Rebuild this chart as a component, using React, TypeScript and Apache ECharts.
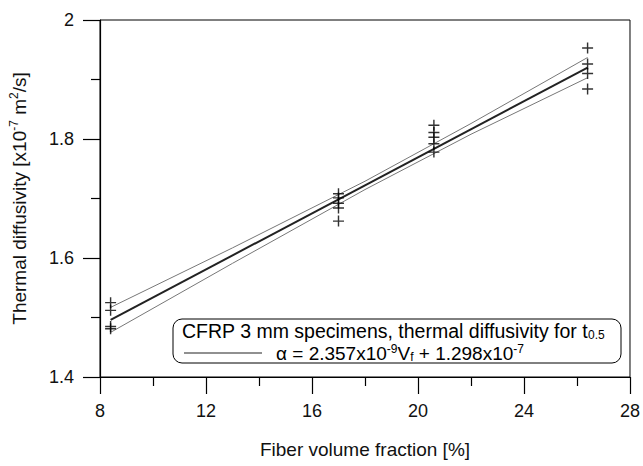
import React, { useEffect, useRef } from "react";
import * as echarts from "echarts";

const xTickLabels = ["8", "12", "16", "20", "24", "28"];
const yTickLabels = ["1.4", "1.6", "1.8", "2"];

// measured points [Vf %, diffusivity x1e-7]
const points: [number, number][] = [
  [8.4, 1.525], [8.4, 1.512], [8.4, 1.485], [8.4, 1.481],
  [17, 1.708], [17, 1.701], [17, 1.692], [17, 1.684], [17, 1.662],
  [20.6, 1.823], [20.6, 1.811], [20.6, 1.803], [20.6, 1.792], [20.6, 1.778],
  [26.4, 1.953], [26.4, 1.926], [26.4, 1.91], [26.4, 1.884],
];

const fitLine: [number, number][] = [[8.4, 1.496], [26.4, 1.92]];
const upperBand: [number, number][] = [[8.4, 1.517], [13, 1.617], [18, 1.729], [22, 1.826], [26.4, 1.937]];
const lowerBand: [number, number][] = [[8.4, 1.475], [13, 1.591], [18, 1.715], [22, 1.808], [26.4, 1.903]];

const FONT = "'Liberation Sans', Arial, Helvetica, sans-serif";
const crossPath =
  "path://M-0.13,-1H0.13V-0.13H1V0.13H0.13V1H-0.13V0.13H-1V-0.13H-0.13Z";

export default function App() {
  const ref = useRef<HTMLDivElement>(null);
  useEffect(() => {
    if (!ref.current) return;
    const chart = echarts.init(ref.current, null, { renderer: "svg" });
    const supStyle = { fontSize: 12, fontFamily: FONT, color: "#111", verticalAlign: "top", lineHeight: 12 };
    const subStyle = { fontSize: 12, fontFamily: FONT, color: "#111", verticalAlign: "bottom", lineHeight: 12 };
    chart.setOption({
      animation: false,
      backgroundColor: "#fff",
      grid: {
        left: 98, right: 11, top: 20, bottom: 89,
        show: true, borderColor: "#000", borderWidth: 1,
      },
      xAxis: {
        type: "value", min: 8, max: 28, interval: 4,
        name: "Fiber volume fraction [%]",
        nameLocation: "middle", nameGap: 63,
        nameTextStyle: { fontFamily: FONT, fontSize: 19, color: "#111" },
        axisLine: { lineStyle: { color: "#000", width: 1.2 } },
        axisTick: { show: true, inside: false, length: 17, lineStyle: { color: "#000", width: 1.2 } },
        minorTick: { show: true, splitNumber: 2, length: 9, lineStyle: { color: "#000", width: 1.2 } },
        axisLabel: {
          margin: 25, fontFamily: FONT, fontSize: 18, color: "#111",
          formatter: (v: number) => xTickLabels[xTickLabels.indexOf(String(v))] ?? "",
        },
        splitLine: { show: false },
      },
      yAxis: {
        type: "value", min: 1.4, max: 2, interval: 0.2,
        name: "{n|Thermal diffusivity [x10}{sup|-7}{n| m}{sup|2}{n|/s]}",
        nameLocation: "middle", nameGap: 70,
        nameTextStyle: {
          rich: {
            n: { fontFamily: FONT, fontSize: 19, color: "#111", lineHeight: 22 },
            sup: supStyle,
          },
        },
        axisLine: { lineStyle: { color: "#000", width: 1.2 } },
        axisTick: { show: true, inside: false, length: 17, lineStyle: { color: "#000", width: 1.2 } },
        minorTick: { show: true, splitNumber: 2, length: 9, lineStyle: { color: "#000", width: 1.2 } },
        axisLabel: {
          margin: 26, fontFamily: FONT, fontSize: 18, color: "#111",
          formatter: (v: number) => {
            const s = String(Math.round(v * 10) / 10);
            return yTickLabels.includes(s) ? s : "";
          },
        },
        splitLine: { show: false },
      },
      series: [
        {
          type: "line", data: upperBand, showSymbol: false, symbol: "none",
          lineStyle: { color: "#777", width: 1 }, z: 2,
        },
        {
          type: "line", data: lowerBand, showSymbol: false, symbol: "none",
          lineStyle: { color: "#777", width: 1 }, z: 2,
        },
        {
          type: "line", data: fitLine, showSymbol: false, symbol: "none",
          lineStyle: { color: "#222", width: 2 }, z: 3,
        },
        {
          type: "scatter", data: points, symbol: crossPath, symbolSize: 11,
          itemStyle: { color: "#000" }, z: 4,
        },
      ],
      graphic: [
        {
          type: "rect", z: 10,
          shape: { x: 173, y: 319, width: 448, height: 44, r: 9 },
          style: { fill: "#fff", stroke: "#000", lineWidth: 1 },
        },
        {
          type: "text", z: 11, x: 182, y: 331,
          style: {
            text: "{n|CFRP 3 mm specimens, thermal diffusivity for t}{sub|0.5}",
            verticalAlign: "middle",
            rich: {
              n: { fontFamily: FONT, fontSize: 19.5, color: "#111", lineHeight: 20 },
              sub: subStyle,
            },
          },
        },
        {
          type: "line", z: 11,
          shape: { x1: 184, y1: 353, x2: 262, y2: 353 },
          style: { stroke: "#222", lineWidth: 1.2 },
        },
        {
          type: "text", z: 11, x: 276, y: 353,
          style: {
            text: "{n|α = 2.357x10}{sup|-9}{n|V}{sub|f}{n| + 1.298x10}{sup|-7}",
            verticalAlign: "middle",
            rich: {
              n: { fontFamily: FONT, fontSize: 19, color: "#111", lineHeight: 20 },
              sup: supStyle,
              sub: subStyle,
            },
          },
        },
      ],
    });
    return () => chart.dispose();
  }, []);
  return (
    <div
      ref={ref}
      style={{ position: "fixed", left: 0, top: 0, width: 643, height: 466, background: "#fff" }}
    />
  );
}
